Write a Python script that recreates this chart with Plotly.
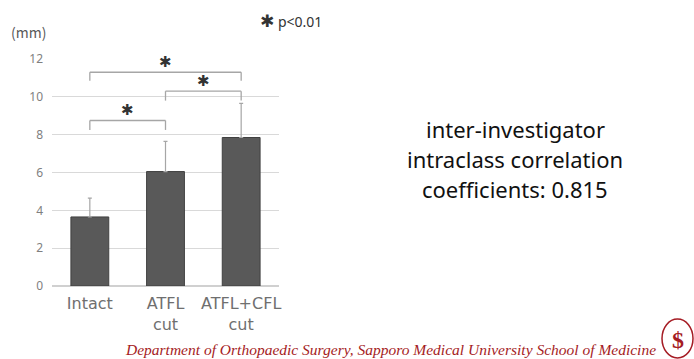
import plotly.graph_objects as go

categories = ["Intact", "ATFL<br>cut", "ATFL+CFL<br>cut"]
means = [3.65, 6.05, 7.85]
sd_upper = [1.0, 1.6, 1.8]
y_ticks = [0, 2, 4, 6, 8, 10, 12]

# significance brackets: (left index, right index, top level, leg bottom)
bracket_left = [0, 1, 0]
bracket_right = [1, 2, 2]
bracket_top = [8.75, 10.3, 11.3]
bracket_leg = [8.25, 9.8, 10.85]

side_text_lines = ["inter-investigator", "intraclass correlation", "coefficients: 0.815"]

W, H = 694, 359
ML, MR, MT, MB = 52, 415, 59, 73

fig = go.Figure()
fig.add_trace(go.Bar(
    x=categories, y=means, width=0.5,
    marker=dict(color="#595959", line=dict(color="#404040", width=1)),
    error_y=dict(type="data", array=sd_upper, arrayminus=[0, 0, 0], symmetric=False,
                 color="#a6a6a6", thickness=1.2, width=2),
))

for l, r, top, leg in zip(bracket_left, bracket_right, bracket_top, bracket_leg):
    pts = [(l, leg), (l, top), (r, top), (r, leg)]
    for (a, ya), (b, yb) in zip(pts[:-1], pts[1:]):
        fig.add_shape(type="line", xref="x", yref="y", x0=a, y0=ya, x1=b, y1=yb,
                      line=dict(color="#a6a6a6", width=1.3))
    fig.add_annotation(x=(l + r) / 2, y=top, xref="x", yref="y", text="✱",
                       showarrow=False, yanchor="middle", yshift=10,
                       font=dict(family="DejaVu Sans", size=15, color="#333333"))

fig.update_layout(
    width=W, height=H,
    margin=dict(l=ML, r=MR, t=MT, b=MB),
    plot_bgcolor="white", paper_bgcolor="white",
    showlegend=False,
    xaxis=dict(type="category", showline=False, ticks="", ticklabelstandoff=6,
               tickfont=dict(family="DejaVu Sans", size=16, color="#6f6f6f"),
               range=[-0.5, 2.5]),
    yaxis=dict(range=[0, 12], tickvals=y_ticks, showgrid=True, gridcolor="#d9d9d9",
               gridwidth=1, zeroline=True, zerolinecolor="#d0d0d0", showline=False,
               ticks="", ticklabelstandoff=8,
               tickfont=dict(family="Noto Sans", size=12, color="#7f7f7f")),
)

def px(x):
    return (x - ML) / (W - ML - MR)
def py(y):
    return (H - MB - y) / (H - MT - MB)

extra = [
    dict(x=px(28), y=py(32), text="(mm)",
         font=dict(family="Noto Sans CJK JP", size=14, color="#595959")),
    dict(x=px(291), y=py(21), text="<span style='font-size:17px;font-family:DejaVu Sans;color:#333'>✱</span> p<0.01",
         font=dict(family="Noto Sans", size=14, color="#333333")),
    dict(x=px(390), y=py(349),
         text="<i>Department of Orthopaedic Surgery, Sapporo Medical University School of Medicine</i>",
         font=dict(family="Liberation Serif", size=15.5, color="#a51c24")),
]
for i, line in enumerate(side_text_lines):
    extra.append(dict(x=px(515), y=py(129 + 30 * i), text=line,
                      font=dict(family="Noto Sans", size=22, color="#111111")))
for e in extra:
    fig.add_annotation(xref="paper", yref="paper", showarrow=False,
                       xanchor="center", yanchor="middle", **e)

# emblem in the corner
fig.add_shape(type="circle", xref="paper", yref="paper",
              x0=px(662), x1=px(693), y0=py(358), y1=py(319),
              line=dict(color="#a51c24", width=1.5), fillcolor="white")
fig.add_annotation(xref="paper", yref="paper", x=px(678), y=py(340), text="<b>$</b>",
                   showarrow=False, xanchor="center", yanchor="middle",
                   font=dict(family="Liberation Serif", size=24, color="#a51c24"))

fig.write_html("out.html", config={"displayModeBar": False},
               post_script="document.body.style.margin='0';")
